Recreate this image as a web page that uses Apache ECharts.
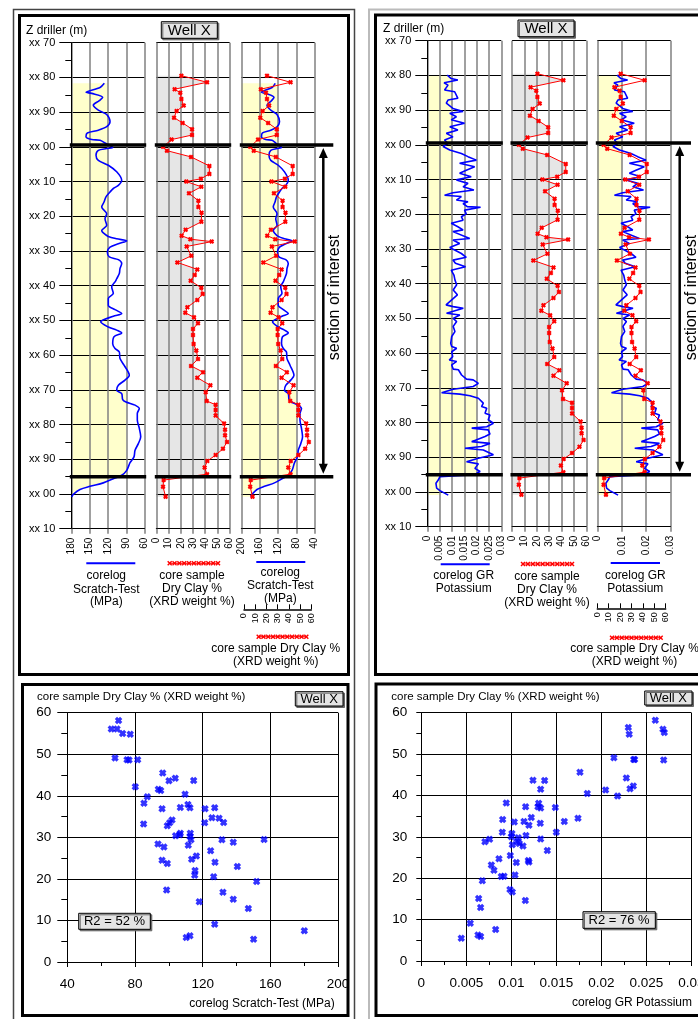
<!DOCTYPE html>
<html>
<head>
<meta charset="utf-8">
<script src="https://cdn.jsdelivr.net/npm/echarts@6/dist/echarts.min.js"></script>
<style>
html, body { margin: 0; padding: 0; background: #fff; }
#main { width: 698px; height: 1019px; }
</style>
</head>
<body>
<div id="main"></div>
<script>
const FONT = '"Liberation Sans", Arial, sans-serif';
const BLUE = '#0000ff', RED = '#ff0000', YELLOW = '#ffffcc', GREY = '#e6e6e6';
const XMARK = 'path://M0,3L3,0L5,2L7,0L10,3L8,5L10,7L7,10L5,8L3,10L0,7L2,5Z';

// corelog scratch test (MPa) against depth
const scratchDepth = [81.7,82.9,84.3,84.6,85.7,86.7,88,89.4,90.7,92.8,
  94.2,95.2,96,97.1,97.9,98.1,98.9,100.2,100.5,101,
  102.4,103.9,105.3,107.2,109.6,111.1,112,113,114.4,115.9,
  117.3,119.3,120.7,122.6,124.1,124.8,125.8,126.5,127.1,127.9,
  128.9,130.3,131.7,132.5,133.6,135.1,136.5,138,138.9,140.3,
  142.2,143.7,145.6,146.9,148,148.8,150.4,151.9,152.8,153.6,
  154.7,156.7,158.1,159.1,161,162.9,165.8,167.2,168.7,170.1,
  171.1,172.8,173.5,174.4,175.4,176.8,178.7,181.1,183.5,185.5,
  187.4,189.3,191,193.2,194.6,195.6,196.8,197.8,198.7,200.1,200.8];
const scratchMPa = [126,133,156,146.7,128.7,134.2,144,135.8,122.1,116.7,
  122.1,135.8,153.8,156,146.7,133,124.9,112.3,122.1,135.8,
  139.6,135.8,119.5,105.8,97.6,103.1,111.3,116.7,123.3,126.5,
  130.3,122.1,124.9,122.1,130.3,127.7,119.5,105.8,89.4,103.1,
  116.7,121.1,117.9,103.1,97.6,100.4,101.5,105.8,108.5,114,
  111.3,119.5,119.5,108.5,97.6,111.3,132,119.5,105.8,97.6,
  110.2,112.3,108.5,101.5,100.4,93.8,85.2,92.2,103.1,105.8,
  97.6,96,90.6,75.8,68.8,72.1,72.1,68.8,66.5,70.4,
  75.8,77.5,84,89.4,97.6,111.3,127.7,149.4,165.8,176.7,179.3];

// corelog GR potassium against depth
const gkDepth = [79.9,80.9,81.3,82.1,82.8,84.2,84.7,86.6,87.1,88,
  89.5,90.4,90.9,91.9,92.8,93.8,94.8,95.7,96.7,97.7,
  98.6,99.6,100.5,101.5,102.5,103.4,104.4,105.3,106.3,107.3,
  108.2,109.2,110.1,111.1,112.1,113,113.8,114.5,114.9,115.9,
  116.4,116.9,117.8,118,118.8,119.9,120.7,121.7,122.6,123.6,
  124.5,125,127,127.4,128.4,129.6,130.3,131.3,132.4,133.2,
  134.1,135.1,136.1,137.5,138.9,140.3,141.8,143.2,146.1,146.6,
  147.1,148.5,149,150,150.9,152.3,153.8,155.2,157.2,158.1,
  158.6,159.6,161,162,162.4,163.4,164.6,164.8,166.3,167.5,
  167.7,168.7,169.6,170.4,171.4,171.8,172.3,173,174.4,175.4,
  175.9,177.3,177.8,179.2,180.2,181.2,181.6,182.1,183.3,184,
  185.5,186,186.9,187.4,187.9,189.3,190.3,191.3,191.9,193.2,
  194.1,194.6,194.9,195.6,196.5,197.5,198.9,199.6,200.9];
const gkValue = [.0081,.0097,.0124,.0068,.0084,.007,.0111,.0124,.0084,.0077,
  .0104,.0145,.0091,.0118,.0097,.0151,.0091,.0124,.0077,.0104,
  .007,.0084,.0064,.0091,.0138,.0165,.0199,.0131,.0192,.0158,
  .0131,.0178,.0118,.0165,.0145,.0189,.0104,.007,.0138,.0118,
  .0165,.0145,.0162,.0216,.0151,.0158,.0138,.0145,.0097,.0124,
  .0145,.0104,.0172,.0104,.0131,.0091,.0111,.0138,.0158,.0104,
  .0114,.0155,.0097,.0108,.0112,.0119,.0105,.0122,.0076,.0105,
  .0146,.0078,.0132,.0105,.0119,.0105,.0112,.0099,.0095,.0099,
  .0119,.0099,.0103,.0089,.0119,.0099,.0105,.0126,.0139,.0159,
  .0186,.0207,.0186,.0105,.0058,.0132,.0173,.0207,.0227,.022,
  .0241,.0234,.0254,.0247,.0268,.0241,.018,.0247,.0254,.0234,
  .018,.0254,.022,.0153,.0227,.0268,.0207,.0159,.0207,.0193,
  .0214,.02,.0227,.0051,.0045,.0035,.0038,.0051,.0085];

// core samples, dry clay % (XRD weight %)
const coreDepth = [79.5,81.4,83.4,84.4,86.2,88.1,89.7,91.6,93.1,94.9,
  96.6,97.9,100,101.1,102.9,105.5,107.8,109.2,110,111.5,
  113.4,115.5,117.3,119,121.6,123.9,125.6,126.6,127.3,128.7,
  131.4,133.3,135.3,136.9,138.6,140.6,142.4,144.1,146.2,147.8,
  149.1,150.8,152.5,154.2,156.8,158.7,161.1,163.1,164.9,166.5,
  168.7,170.7,173.2,174.3,175.8,177.4,179.7,181.5,183.1,185,
  187,188.8,190.5,192.4,194.3,196,197.9,200.8];
const coreClay = [20.5,41.5,15,19.6,20.5,22.4,16.6,14.5,21.5,29.2,
  29.2,12.5,5.5,8.7,28.4,43.4,43.4,36.5,24.5,36.8,
  26.7,34.4,34.4,37,36.8,24,20.7,27.8,45.3,24.8,
  28.6,17.2,33.5,31.4,28.1,36.8,37.9,33.5,25.4,23.7,
  30.8,34.1,30,30,30.5,32.7,34.1,28.4,38.2,33.5,
  44.2,40.4,41.2,48.5,48.5,48.5,55.4,56.2,56.2,57.8,
  54.5,48.5,41.7,39.5,41.5,6,5.5,7.6];

// shaded zones (log value limit by depth)
const shadeScratchDepth = [81.7, 170, 170, 195];
const shadeScratchTrack1 = [120, 120, 90, 90];
const shadeScratchTrack3 = [120, 120, 80, 80];
const shadeKDepth = [79.9, 169.7, 169.7, 194.9, 194.9, 200.9];
const shadeK = [0.01, 0.01, 0.02, 0.02, 0.005, 0.005];
const zoneTop = 99.5, zoneBase = 195;

// cross plots
const crossScratch = [66,70.3,69.4,72.7,77.2,68.2,75.3,76.5,81.6,80.2,
  96.4,103.8,100.1,114.7,93.8,95.2,109.6,87.3,85.3,111.3,
  106.8,112.5,96,121.4,127.1,125.5,129.7,121.2,132.4,101.9,
  100.5,99.1,85.1,106.8,104,106.4,112.7,112.5,113.1,131.4,
  138.1,156.3,93.6,97.1,111.5,124.7,116.3,113.5,127.3,96,
  99.1,140.5,115.5,115.3,126.5,151.9,98.7,132,138.1,118,
  147,127.1,110.3,112.5,150.1,180.1];
const crossScratchClay = [56.1,58.1,56.1,55,54.8,49.1,48.7,48.6,48.7,42.2,
  45.5,44.2,43.6,43.7,41.6,41.3,40.4,39.8,38.2,37.9,
  37.2,37.1,36.9,36.9,37.1,34.7,34.6,33.5,33.6,34.2,
  33.5,32.8,33.2,31,30.4,30.6,31,30.2,29.4,29.4,
  28.8,29.5,28.4,27.7,28.1,26.8,25.5,24.7,24,24.5,
  23.7,23,22,20.9,20.5,19.4,17.3,16.8,15.1,14.5,
  12.9,9.1,5.9,6.3,5.5,7.5];
const crossK = [.026,.02685,.027,.02693,.023,.0231,.0214,.0236,.0237,.01763,
  .02278,.02356,.02319,.02048,.02181,.01844,.01241,.0137,.01326,.00944,
  .01159,.01304,.01296,.01326,.01489,.00904,.01033,.01141,.01222,.01196,
  .01322,.01589,.01741,.009,.01007,.01,.01163,.01326,.015,.00707,
  .00759,.01078,.01063,.01089,.0113,.01011,.00989,.014,.00863,.01056,
  .01189,.01196,.00778,.00807,.00889,.00919,.01041,.00678,.00985,.01011,
  .01156,.00637,.00659,.00544,.0063,.00659,.00444,.00826];
const crossKClay = [58.2,56,55.2,48.6,56.4,54.8,49.1,48.7,48.7,45.6,
  44.2,42.3,41.6,41.3,39.9,40.5,43.7,43.6,41.5,38.2,
  37.3,38.1,37.3,37,37.1,34.2,33.6,33.7,34.7,32.8,
  33.3,33.7,34.5,31.1,30.8,30,30.3,29.5,31.1,28.8,
  29.4,29.8,28.8,28.4,27.8,28.1,25.5,26.7,24.7,23.8,
  24.3,23.9,23.2,21.9,20.4,20.5,20.8,19.4,17.3,16.7,
  14.6,15.1,12.9,9.1,6.3,5.9,5.5,7.6];
const r2Labels = ['R2 = 52 %', 'R2 = 76 %'];

function pairs(xs, ys) { return xs.map((x, i) => [x, ys[i]]); }

const scratchLog = pairs(scratchMPa, scratchDepth);
const gkLog = pairs(gkValue, gkDepth);
const coreLog = pairs(coreClay, coreDepth);
const scratchTail = scratchLog.filter(p => p[1] > zoneBase);
const lastScratch = scratchDepth[scratchDepth.length - 1];

const shadeTrack1 = [[180, shadeScratchDepth[0]]].concat(pairs(shadeScratchTrack1, shadeScratchDepth), scratchTail, [[180, lastScratch]]);
const shadeTrack3 = [[200, shadeScratchDepth[0]]].concat(pairs(shadeScratchTrack3, shadeScratchDepth), scratchTail, [[200, lastScratch]]);
const shadeKTrack = [[0, shadeKDepth[0]]].concat(pairs(shadeK, shadeKDepth), [[0, shadeKDepth[shadeKDepth.length - 1]]]);
const shadeCore = [[0, coreDepth[0]]].concat(coreLog, [[0, coreDepth[coreDepth.length - 1]]]);

// ---------- axes ----------
function depthAxis(gi, labels) {
  return {
    gridIndex: gi, type: 'value', min: 70, max: 210, interval: 10, inverse: true,
    axisLine: { show: labels, lineStyle: { color: '#000' } },
    axisTick: { show: labels, length: 12, lineStyle: { color: '#000' } },
    minorTick: { show: labels, splitNumber: 2, length: 6, lineStyle: { color: '#000' } },
    axisLabel: { show: labels, margin: 16, fontSize: 11, color: '#000', fontFamily: FONT,
      formatter: v => 'xx ' + String(v % 100).padStart(2, '0') },
    splitLine: { show: true, lineStyle: { color: '#000', width: 1 } }
  };
}
function hiddenDepthAxis(gi) {
  return { gridIndex: gi, type: 'value', min: 70, max: 210, inverse: true, show: false };
}
function trackAxis(gi, min, max, interval, inverse) {
  return {
    gridIndex: gi, type: 'value', min: min, max: max, interval: interval, inverse: inverse,
    position: 'bottom',
    axisLine: { show: true, onZero: false, lineStyle: { color: '#000' } },
    axisTick: { show: true, length: 5, lineStyle: { color: '#808080', width: 1.5 } },
    axisLabel: { rotate: 90, margin: 9, fontSize: 10, color: '#000', fontFamily: FONT },
    splitLine: { show: true, lineStyle: { color: '#808080', width: 1.5 } }
  };
}
function overlayAxis(gi, offset) {
  return {
    gridIndex: gi, type: 'value', min: 0, max: 60, interval: 10, position: 'bottom', offset: offset,
    axisLine: { show: true, onZero: false, lineStyle: { color: '#000', width: 1.5 } },
    axisTick: { show: true, inside: true, length: 5, lineStyle: { color: '#000' } },
    axisLabel: { rotate: 90, margin: 4, fontSize: 9, color: '#000', fontFamily: FONT },
    splitLine: { show: false }
  };
}
function crossAxis(gi, min, max, interval, tickLen, minorLen, labelMargin) {
  return {
    gridIndex: gi, type: 'value', min: min, max: max, interval: interval,
    axisLine: { show: true, onZero: false, lineStyle: { color: '#000' } },
    axisTick: { show: true, length: tickLen, lineStyle: { color: '#000' } },
    minorTick: { show: true, splitNumber: 2, length: minorLen, lineStyle: { color: '#000' } },
    axisLabel: { margin: labelMargin, fontSize: 13.5, color: '#000', fontFamily: FONT },
    splitLine: { show: true, lineStyle: { color: '#000', width: 1 } }
  };
}

const grids = [
  [71.3, 42.7, 73.4, 486],   // 0 scratch
  [156.3, 42.7, 73.4, 486],  // 1 core clay
  [241.3, 42.7, 73.4, 486],  // 2 scratch + clay
  [244, 42.7, 67.3, 486],    // 3 clay overlay
  [427.3, 40.7, 74, 486],    // 4 GR K
  [512, 40.7, 74.3, 486],    // 5 core clay
  [597.3, 40.7, 73.4, 486],  // 6 GR K + clay
  [597.3, 40.7, 68.4, 486],  // 7 clay overlay
  [67.3, 712.7, 270.7, 249.3], // 8 cross plot scratch
  [421.3, 712.7, 270, 248.3]   // 9 cross plot K
].map(g => ({ left: g[0], top: g[1], width: g[2], height: g[3], containLabel: false, outerBoundsMode: 'none' }));

const xAxes = [
  trackAxis(0, 60, 180, 30, true),
  trackAxis(1, 0, 60, 10, false),
  trackAxis(2, 40, 200, 40, true),
  overlayAxis(3, 80.6),
  trackAxis(4, 0, 0.03, 0.005, false),
  trackAxis(5, 0, 60, 10, false),
  trackAxis(6, 0, 0.03, 0.01, false),
  overlayAxis(7, 81.6),
  crossAxis(8, 40, 200, 40, 5, 4, 15),
  crossAxis(9, 0, 0.03, 0.005, 5, 4, 15)
];
const yAxes = [
  depthAxis(0, true), depthAxis(1, false), depthAxis(2, false), hiddenDepthAxis(3),
  depthAxis(4, true), depthAxis(5, false), depthAxis(6, false), hiddenDepthAxis(7),
  crossAxis(8, 0, 60, 10, 10, 6, 16),
  crossAxis(9, 0, 60, 10, 5, 5, 14)
];

// ---------- series ----------
function shade(gi, pts, color) {
  return {
    type: 'custom', xAxisIndex: gi, yAxisIndex: gi, silent: true, z: -1,
    data: [pts[0]],
    renderItem: (params, api) => ({
      type: 'polygon', shape: { points: pts.map(p => api.coord(p)) }, style: { fill: color }
    })
  };
}
function logLine(gi, data, smooth) {
  return {
    type: 'line', xAxisIndex: gi, yAxisIndex: gi, data: data, showSymbol: false, smooth: smooth,
    lineStyle: { color: BLUE, width: 1.6 }, itemStyle: { color: BLUE }, z: 2
  };
}
function coreLine(gi) {
  return {
    type: 'line', xAxisIndex: gi, yAxisIndex: gi, data: coreLog, symbol: XMARK, symbolSize: 5,
    showSymbol: true, lineStyle: { color: RED, width: 1 }, itemStyle: { color: RED }, z: 3
  };
}
function cross(gi, xs, ys) {
  return {
    type: 'scatter', xAxisIndex: gi, yAxisIndex: gi, data: pairs(xs, ys), symbol: XMARK,
    symbolSize: 7.5, itemStyle: { color: BLUE }
  };
}

const series = [
  shade(0, shadeTrack1, YELLOW), logLine(0, scratchLog, 0.3),
  shade(1, shadeCore, GREY), coreLine(1),
  shade(2, shadeTrack3, YELLOW), logLine(2, scratchLog, 0.3), coreLine(3),
  shade(4, shadeKTrack, YELLOW), logLine(4, gkLog, false),
  shade(5, shadeCore, GREY), coreLine(5),
  shade(6, shadeKTrack, YELLOW), logLine(6, gkLog, false), coreLine(7),
  cross(8, crossScratch, crossScratchClay),
  cross(9, crossK, crossKClay)
];

// ---------- decoration ----------
const g = [];
function text(s, x, y, size, align, extra) {
  g.push(Object.assign({ type: 'text', x: x, y: y, z: 60,
    style: { text: s, fill: '#000', font: size + 'px ' + FONT, textAlign: align || 'center', textVerticalAlign: 'middle' } }, extra || {}));
}
function frame(x, y, w, h, width, color) {
  g.push({ type: 'rect', z: 60, shape: { x: x, y: y, width: w, height: h }, style: { fill: null, stroke: color, lineWidth: width } });
}
function box(x, y, w, h, s, size) {
  g.push({ type: 'rect', z: 60, shape: { x: x, y: y, width: w, height: h },
    style: { fill: '#e4e4e4', stroke: '#000', lineWidth: 1, shadowColor: '#666', shadowOffsetX: 1.5, shadowOffsetY: 1.5 } });
  text(s, x + w / 2, y + h / 2 + 0.5, size);
}
function line(x1, y1, x2, y2, color, width) {
  g.push({ type: 'line', z: 60, shape: { x1: x1, y1: y1, x2: x2, y2: y2 }, style: { stroke: color, lineWidth: width } });
}
function blueKey(x1, x2, y) { line(x1, y, x2, y, BLUE, 2); }
function redKey(x1, x2, y) {
  line(x1, y, x2, y, RED, 1);
  for (let i = 0; i <= 10; i++) {
    const x = x1 + (x2 - x1) * i / 10;
    line(x - 2, y - 2, x + 2, y + 2, RED, 1.4);
    line(x - 2, y + 2, x + 2, y - 2, RED, 1.4);
  }
}

// panel frames
frame(13.5, 9.5, 341, 1020, 1.5, '#444');
frame(369, 9.5, 400, 1020, 2, '#bbb');
frame(19.5, 15.5, 329, 659, 3, '#000');
frame(22.5, 684.5, 325.5, 331, 3, '#000');
frame(375.5, 15, 340, 659.5, 3, '#000');
frame(376, 684, 340, 331.5, 3, '#000');

// headers
text('Z driller (m)', 26, 30.5, 12, 'left');
text('Z driller (m)', 383, 28.5, 12, 'left');
box(161.3, 21.7, 56, 16.6, 'Well X', 15);
box(518, 20, 56, 16.7, 'Well X', 15);

// track keys, left well
blueKey(86.3, 135.3, 563.3);
text('corelog', 106.3, 576, 12); text('Scratch-Test', 106.3, 589.3, 12); text('(MPa)', 106.3, 601.7, 12);
redKey(169.7, 218, 563.3);
text('core sample', 192, 576, 12); text('Dry Clay %', 192, 589, 12); text('(XRD weight %)', 192, 602, 12);
blueKey(256.3, 305.3, 562);
text('corelog', 280.3, 572.7, 12); text('Scratch-Test', 280.3, 586, 12); text('(MPa)', 280.3, 599, 12);
redKey(258.7, 306.3, 636.7);
text('core sample Dry Clay %', 275.7, 649, 12); text('(XRD weight %)', 275.7, 662, 12);

// track keys, right well
blueKey(440.7, 489.7, 564.3);
text('corelog GR', 463.7, 576, 12); text('Potassium', 463.7, 589, 12);
redKey(523, 572, 564);
text('core sample', 547, 576.7, 12); text('Dry Clay %', 547, 590, 12); text('(XRD weight %)', 547, 603, 12);
blueKey(610.7, 660, 563);
text('corelog GR', 635.3, 576, 12); text('Potassium', 635.3, 589, 12);
redKey(612, 660.7, 637.7);
text('core sample Dry Clay %', 634.5, 649, 12); text('(XRD weight %)', 634.5, 662, 12);

// cross plot labels
text('core sample Dry Clay % (XRD weight %)', 37, 696.7, 11.5, 'left');
text('core sample Dry Clay % (XRD weight %)', 391.3, 696.7, 11.5, 'left');
text('corelog Scratch-Test (MPa)', 334.7, 1003.3, 12, 'right');
text('corelog GR Potassium', 692, 1003, 12, 'right');
box(295.3, 691.7, 47.7, 14.3, 'Well X', 13);
box(644.7, 691, 47.3, 14, 'Well X', 13);
box(78.7, 913.3, 71.6, 16, r2Labels[0], 13);
box(583, 911.7, 72.3, 16.6, r2Labels[1], 13);

const chart = echarts.init(document.getElementById('main'), null, { renderer: 'canvas' });
chart.setOption({
  animation: false,
  textStyle: { fontFamily: FONT },
  grid: grids, xAxis: xAxes, yAxis: yAxes, series: series
});

// zone boundaries and "section of interest" arrows, placed through the axes
function zoneMarks(tracks, arrowX, endX, textX) {
  tracks.forEach((gi, k) => {
    const ext = xAxes[gi].inverse ? [xAxes[gi].max, xAxes[gi].min] : [xAxes[gi].min, xAxes[gi].max];
    [zoneTop, zoneBase].forEach(d => {
      const a = chart.convertToPixel({ gridIndex: gi }, [ext[0], d]);
      const b = chart.convertToPixel({ gridIndex: gi }, [ext[1], d]);
      const x2 = k === tracks.length - 1 ? endX : b[0] + 1.5;
      line(a[0] - 1.5, a[1], x2, a[1], '#000', 3.5);
    });
  });
  const gi = tracks[0];
  const yTop = chart.convertToPixel({ gridIndex: gi }, [xAxes[gi].min, zoneTop])[1] + 3;
  const yBot = chart.convertToPixel({ gridIndex: gi }, [xAxes[gi].min, zoneBase])[1] - 3;
  line(arrowX, yTop + 8, arrowX, yBot - 8, '#000', 2.5);
  g.push({ type: 'polygon', z: 60, shape: { points: [[arrowX, yTop], [arrowX - 4.5, yTop + 10], [arrowX + 4.5, yTop + 10]] }, style: { fill: '#000' } });
  g.push({ type: 'polygon', z: 60, shape: { points: [[arrowX, yBot], [arrowX - 4.5, yBot - 10], [arrowX + 4.5, yBot - 10]] }, style: { fill: '#000' } });
  text('section of interest', textX, 297.5, 16, 'center', { rotation: Math.PI / 2 });
}
zoneMarks([0, 1, 2], 323.3, 333.3, 335);
zoneMarks([4, 5, 6], 679.7, 691, 692);

chart.setOption({ graphic: g });
</script>
</body>
</html>
